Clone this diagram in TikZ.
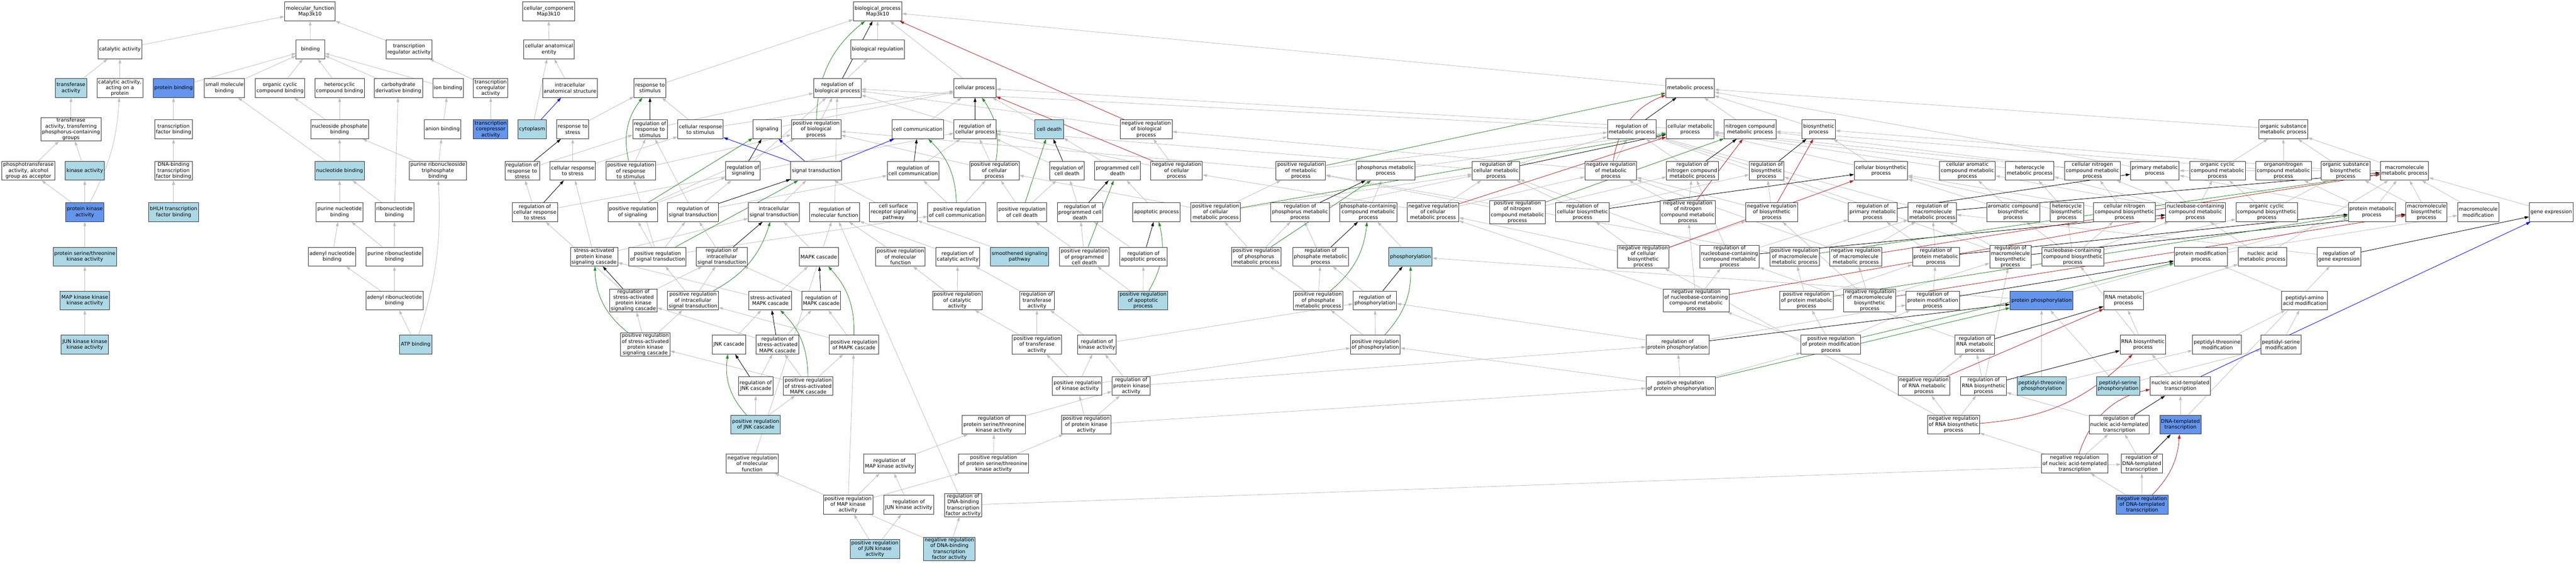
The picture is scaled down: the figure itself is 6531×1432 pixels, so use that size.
\documentclass[tikz,border=0pt]{standalone}
\usepackage{fontspec}
\setmainfont{DejaVu Sans}
\usetikzlibrary{arrows.meta,backgrounds}
\definecolor{lightblue}{HTML}{ADD8E6}
\definecolor{cornflower}{HTML}{6495ED}
\definecolor{edgegray}{HTML}{BEBEBE}
\definecolor{fgreen}{HTML}{228B22}
\definecolor{fred}{HTML}{B22222}
\tikzset{
  term/.style={draw=black!80,line width=1.2pt,fill=white,rectangle,align=center,
    minimum width=72pt,minimum height=48pt,inner xsep=3pt,inner ysep=1pt,
    font=\fontsize{12.8}{14.7}\selectfont},
  lb/.style={term,fill=lightblue},
  cb/.style={term,fill=cornflower},
  isa/.style={draw=edgegray,line width=1.1pt,->},
  regl/.style={isa,draw=black},
  preg/.style={isa,draw=fgreen},
  nreg/.style={isa,draw=fred},
  partof/.style={isa,draw=blue}
}
\begin{document}
\begin{tikzpicture}[x=1pt,y=-1pt,>={Triangle[length=11pt,width=7pt]}]
\useasboundingbox (0,0) rectangle (6531,1432);
\node[term] (mf) at (786,29) {molecular\_function\\Map3k10};
\node[term] (cc) at (1391,29) {cellular\_component\\Map3k10};
\node[term] (bp) at (2225,29) {biological\_process\\Map3k10};
\node[term] (cat) at (304,125) {catalytic activity};
\node[term] (bind) at (787,125) {binding};
\node[term] (trreg) at (1037,125) {transcription\\regulator activity};
\node[term] (cae) at (1392,125) {cellular anatomical\\entity};
\node[term] (breg) at (2225,125) {biological regulation};
\node[lb] (trans) at (180,223) {transferase\\activity};
\node[term] (catprot) at (304,223) {catalytic activity,\\acting on a\\protein};
\node[cb] (protbind) at (440,223) {protein binding};
\node[term] (smallmol) at (569,223) {small molecule\\binding};
\node[term] (orgcyc) at (710,223) {organic cyclic\\compound binding};
\node[term] (hetcyc) at (861,223) {heterocyclic\\compound binding};
\node[term] (carbo) at (1010,223) {carbohydrate\\derivative binding};
\node[term] (ionb) at (1136,223) {ion binding};
\node[term] (trcoreg) at (1244,223) {transcription\\coregulator\\activity};
\node[term] (ias) at (1445,223) {intracellular\\anatomical structure};
\node[term] (resp) at (1648,223) {response to\\stimulus};
\node[term] (rbp) at (2123,223) {regulation of\\biological process};
\node[term] (cellp) at (2472,223) {cellular process};
\node[term] (metab) at (4285,223) {metabolic process};
\node[term] (transP) at (180,328) {transferase\\activity, transferring\\phosphorus-containing\\groups};
\node[term] (tfbind) at (440,328) {transcription\\factor binding};
\node[term] (nucphos) at (861,328) {nucleoside phosphate\\binding};
\node[term] (anion) at (1122,328) {anion binding};
\node[cb] (trcorep) at (1244,328) {transcription\\corepressor\\activity};
\node[lb] (cyto) at (1349,328) {cytoplasm};
\node[term] (rstress) at (1452,328) {response to\\stress};
\node[term] (rresp) at (1648,328) {regulation of\\response to\\stimulus};
\node[term] (crs) at (1776,328) {cellular response\\to stimulus};
\node[term] (sig) at (1945,328) {signaling};
\node[term] (prbp) at (2069,328) {positive regulation\\of biological\\process};
\node[term] (cellcomm) at (2327,328) {cell communication};
\node[term] (rcellp) at (2472,328) {regulation of\\cellular process};
\node[lb] (death) at (2660,328) {cell death};
\node[term] (nrbp) at (2906,328) {negative regulation\\of biological\\process};
\node[term] (rmetab) at (4137,328) {regulation of\\metabolic process};
\node[term] (cmetab) at (4285,328) {cellular metabolic\\process};
\node[term] (nmetab) at (4437,328) {nitrogen compound\\metabolic process};
\node[term] (biosyn) at (4611,328) {biosynthetic\\process};
\node[term] (osmetab) at (5789,328) {organic substance\\metabolic process};
\node[term] (phostr) at (72,433) {phosphotransferase\\activity, alcohol\\group as acceptor};
\node[lb] (kin) at (215,433) {kinase activity};
\node[term] (dnatf) at (440,433) {DNA-binding\\transcription\\factor binding};
\node[lb] (nucl) at (861,433) {nucleotide binding};
\node[term] (purtri) at (1110,433) {purine ribonucleoside\\triphosphate\\binding};
\node[term] (rrstress) at (1324,433) {regulation of\\response to\\stress};
\node[term] (crstress) at (1452,433) {cellular response\\to stress};
\node[term] (prresp) at (1599,433) {positive regulation\\of response\\to stimulus};
\node[term] (rsig) at (1884,433) {regulation of\\signaling};
\node[term] (sigtr) at (2069,433) {signal transduction};
\node[term] (rcomm) at (2315,433) {regulation of\\cell communication};
\node[term] (prcellp) at (2521,433) {positive regulation\\of cellular\\process};
\node[term] (rdeath) at (2705,433) {regulation of\\cell death};
\node[term] (pcd) at (2833,433) {programmed cell\\death};
\node[term] (nrcellp) at (2983,433) {negative regulation\\of cellular\\process};
\node[term] (prmetab) at (3298,433) {positive regulation\\of metabolic\\process};
\node[term] (phosmet) at (3513,433) {phosphorus metabolic\\process};
\node[term] (rcmetab) at (3793,433) {regulation of\\cellular metabolic\\process};
\node[term] (nrmetab) at (4084,433) {negative regulation\\of metabolic\\process};
\node[term] (rnmetab) at (4291,433) {regulation of\\nitrogen compound\\metabolic process};
\node[term] (rbiosyn) at (4479,433) {regulation of\\biosynthetic\\process};
\node[term] (cbiosyn) at (4769,433) {cellular biosynthetic\\process};
\node[term] (caromet) at (4988,433) {cellular aromatic\\compound metabolic\\process};
\node[term] (hetmet) at (5146,433) {heterocycle\\metabolic process};
\node[term] (cnmet) at (5305,433) {cellular nitrogen\\compound metabolic\\process};
\node[term] (primet) at (5463,433) {primary metabolic\\process};
\node[term] (ocmet) at (5622,433) {organic cyclic\\compound metabolic\\process};
\node[term] (onmet) at (5789,433) {organonitrogen\\compound metabolic\\process};
\node[term] (osbio) at (5947,433) {organic substance\\biosynthetic\\process};
\node[term] (macmet) at (6096,433) {macromolecule\\metabolic process};
\node[cb] (pkin) at (215,538) {protein kinase\\activity};
\node[lb] (bhlh) at (440,538) {bHLH transcription\\factor binding};
\node[term] (purnuc) at (861,538) {purine nucleotide\\binding};
\node[term] (ribonuc) at (1000,538) {ribonucleotide\\binding};
\node[term] (rcrstress) at (1356,538) {regulation of\\cellular response\\to stress};
\node[term] (prsig) at (1604,538) {positive regulation\\of signaling};
\node[term] (rsigtr) at (1757,538) {regulation of\\signal transduction};
\node[term] (istr) at (1962,538) {intracellular\\signal transduction};
\node[term] (rmf) at (2116,538) {regulation of\\molecular function};
\node[term] (csr) at (2265,538) {cell surface\\receptor signaling\\pathway};
\node[term] (prcomm) at (2426,538) {positive regulation\\of cell communication};
\node[term] (prdeath) at (2591,538) {positive regulation\\of cell death};
\node[term] (rpcd) at (2738,538) {regulation of\\programmed cell\\death};
\node[term] (apop) at (2932,538) {apoptotic process};
\node[term] (prcmetab) at (3082,538) {positive regulation\\of cellular\\metabolic process};
\node[term] (rphosmet) at (3296,538) {regulation of\\phosphorus metabolic\\process};
\node[term] (phcmet) at (3469,538) {phosphate-containing\\compound metabolic\\process};
\node[term] (nrcmetab) at (3633,538) {negative regulation\\of cellular\\metabolic process};
\node[term] (prnmetab) at (3847,538) {positive regulation\\of nitrogen\\compound metabolic\\process};
\node[term] (rcbiosyn) at (4012,538) {regulation of\\cellular biosynthetic\\process};
\node[term] (nrnmetab) at (4279,538) {negative regulation\\of nitrogen\\compound metabolic\\process};
\node[term] (nrbiosyn) at (4492,538) {negative regulation\\of biosynthetic\\process};
\node[term] (rprimet) at (4748,538) {regulation of\\primary metabolic\\process};
\node[term] (rmacmet) at (4899,538) {regulation of\\macromolecule\\metabolic process};
\node[term] (arobio) at (5104,538) {aromatic compound\\biosynthetic\\process};
\node[term] (hetbio) at (5240,538) {heterocycle\\biosynthetic\\process};
\node[term] (cnbio) at (5386,538) {cellular nitrogen\\compound biosynthetic\\process};
\node[term] (nbmet) at (5566,538) {nucleobase-containing\\compound metabolic\\process};
\node[term] (ocbio) at (5747,538) {organic cyclic\\compound biosynthetic\\process};
\node[term] (protmet) at (6013,538) {protein metabolic\\process};
\node[term] (macbio) at (6152,538) {macromolecule\\biosynthetic\\process};
\node[term] (macmod) at (6283,538) {macromolecule\\modification};
\node[term] (genex) at (6468,538) {gene expression};
\node[lb] (stk) at (215,651) {protein serine/threonine\\kinase activity};
\node[term] (adenyl) at (842,651) {adenyl nucleotide\\binding};
\node[term] (purribo) at (1000,651) {purine ribonucleotide\\binding};
\node[term] (sapk) at (1506,651) {stress-activated\\protein kinase\\signaling cascade};
\node[term] (prsigtr) at (1667,651) {positive regulation\\of signal transduction};
\node[term] (ristr) at (1830,651) {regulation of\\intracellular\\signal transduction};
\node[term] (mapk) at (2076,651) {MAPK cascade};
\node[term] (prmf) at (2283,651) {positive regulation\\of molecular\\function};
\node[term] (rcat) at (2428,651) {regulation of\\catalytic activity};
\node[lb] (smo) at (2585,651) {smoothened signaling\\pathway};
\node[term] (prpcd) at (2749,651) {positive regulation\\of programmed\\cell death};
\node[term] (rapop) at (2899,651) {regulation of\\apoptotic process};
\node[term] (prphosmet) at (3185,651) {positive regulation\\of phosphorus\\metabolic process};
\node[term] (rphcmet) at (3348,651) {regulation of\\phosphate metabolic\\process};
\node[lb] (phos) at (3576,651) {phosphorylation};
\node[term] (nrcbiosyn) at (4166,651) {negative regulation\\of cellular\\biosynthetic\\process};
\node[term] (rnbmet) at (4385,651) {regulation of\\nucleobase-containing\\compound metabolic\\process};
\node[term] (prmacmet) at (4550,651) {positive regulation\\of macromolecule\\metabolic process};
\node[term] (nrmacmet) at (4705,651) {negative regulation\\of macromolecule\\metabolic process};
\node[term] (rprotmet) at (4908,651) {regulation of\\protein metabolic\\process};
\node[term] (rmacbio) at (5097,651) {regulation of\\macromolecule\\biosynthetic\\process};
\node[term] (nbbio) at (5255,651) {nucleobase-containing\\compound biosynthetic\\process};
\node[term] (protmod) at (5580,651) {protein modification\\process};
\node[term] (nacmet) at (5736,651) {nucleic acid\\metabolic process};
\node[term] (rgenex) at (5930,651) {regulation of\\gene expression};
\node[lb] (mapkkk) at (215,762) {MAP kinase kinase\\kinase activity};
\node[term] (adenribo) at (1000,762) {adenyl ribonucleotide\\binding};
\node[term] (rsapk) at (1606,762) {regulation of\\stress-activated\\protein kinase\\signaling cascade};
\node[term] (pristr) at (1757,762) {positive regulation\\of intracellular\\signal transduction};
\node[term] (samapk) at (1953,762) {stress-activated\\MAPK cascade};
\node[term] (rmapk) at (2082,762) {regulation of\\MAPK cascade};
\node[term] (prcat) at (2427,762) {positive regulation\\of catalytic\\activity};
\node[term] (rtrans) at (2629,762) {regulation of\\transferase\\activity};
\node[lb] (prapop) at (2898,762) {positive regulation\\of apoptotic\\process};
\node[term] (prphcmet) at (3342,762) {positive regulation\\of phosphate\\metabolic process};
\node[term] (rphos) at (3486,762) {regulation of\\phosphorylation};
\node[term] (nrnbmet) at (4300,762) {negative regulation\\of nucleobase-containing\\compound metabolic\\process};
\node[term] (prprotmet) at (4580,762) {positive regulation\\of protein metabolic\\process};
\node[term] (nrmacbio) at (4740,762) {negative regulation\\of macromolecule\\biosynthetic\\process};
\node[term] (rprotmod) at (4900,762) {regulation of\\protein modification\\process};
\node[cb] (protphos) at (5176,762) {protein phosphorylation};
\node[term] (rnamet) at (5384,762) {RNA metabolic\\process};
\node[term] (pepaa) at (5843,762) {peptidyl-amino\\acid modification};
\node[lb] (junkkk) at (215,874) {JUN kinase kinase\\kinase activity};
\node[lb] (atp) at (1054,874) {ATP binding};
\node[term] (prsapk) at (1636,874) {positive regulation\\of stress-activated\\protein kinase\\signaling cascade};
\node[term] (jnk) at (1848,874) {JNK cascade};
\node[term] (rsamapk) at (1971,874) {regulation of\\stress-activated\\MAPK cascade};
\node[term] (prmapk) at (2165,874) {positive regulation\\of MAPK cascade};
\node[term] (prtrans) at (2629,874) {positive regulation\\of transferase\\activity};
\node[term] (rkin) at (2781,874) {regulation of\\kinase activity};
\node[term] (prphos) at (3487,874) {positive regulation\\of phosphorylation};
\node[term] (rprotphos) at (4253,874) {regulation of\\protein phosphorylation};
\node[term] (prprotmod) at (4642,874) {positive regulation\\of protein modification\\process};
\node[term] (rrnamet) at (5007,874) {regulation of\\RNA metabolic\\process};
\node[term] (rnabio) at (5433,874) {RNA biosynthetic\\process};
\node[term] (pepthr) at (5621,874) {peptidyl-threonine\\modification};
\node[term] (pepser) at (5783,874) {peptidyl-serine\\modification};
\node[term] (rjnk) at (1916,979) {regulation of\\JNK cascade};
\node[term] (prsamapk) at (2049,979) {positive regulation\\of stress-activated\\MAPK cascade};
\node[term] (prkin) at (2731,979) {positive regulation\\of kinase activity};
\node[term] (rpkin) at (2868,979) {regulation of\\protein kinase\\activity};
\node[term] (prprotphos) at (4261,979) {positive regulation\\of protein phosphorylation};
\node[term] (nrrnamet) at (4878,979) {negative regulation\\of RNA metabolic\\process};
\node[term] (rrnabio) at (5029,979) {regulation of\\RNA biosynthetic\\process};
\node[lb] (thrphos) at (5176,979) {peptidyl-threonine\\phosphorylation};
\node[lb] (serphos) at (5370,979) {peptidyl-serine\\phosphorylation};
\node[term] (natr) at (5528,979) {nucleic acid-templated\\transcription};
\node[lb] (prjnk) at (1916,1077) {positive regulation\\of JNK cascade};
\node[term] (rstk) at (2520,1077) {regulation of\\protein serine/threonine\\kinase activity};
\node[term] (prpkin) at (2754,1077) {positive regulation\\of protein kinase\\activity};
\node[term] (nrrnabio) at (4953,1077) {negative regulation\\of RNA biosynthetic\\process};
\node[term] (rnatr) at (5373,1077) {regulation of\\nucleic acid-templated\\transcription};
\node[cb] (dnatr) at (5528,1077) {DNA-templated\\transcription};
\node[term] (nrmf) at (1907,1176) {negative regulation\\of molecular\\function};
\node[term] (rmapkin) at (2255,1176) {regulation of\\MAP kinase activity};
\node[term] (prstk) at (2519,1176) {positive regulation\\of protein serine/threonine\\kinase activity};
\node[term] (nrnatr) at (5260,1176) {negative regulation\\of nucleic acid-templated\\transcription};
\node[term] (rdnatr) at (5430,1176) {regulation of\\DNA-templated\\transcription};
\node[term] (prmapkin) at (2150,1280) {positive regulation\\of MAP kinase\\activity};
\node[term] (rjunkin) at (2304,1280) {regulation of\\JUN kinase activity};
\node[term] (rdnatf) at (2442,1281) {regulation of\\DNA-binding\\transcription\\factor activity};
\node[cb] (nrdnatr) at (5431,1280) {negative regulation\\of DNA-templated\\transcription};
\node[lb] (prjunkin) at (2218,1392) {positive regulation\\of JUN kinase\\activity};
\node[lb] (nrdnatf) at (2407,1392) {negative regulation\\of DNA-binding\\transcription\\factor activity};
\begin{scope}[on background layer]
\foreach \a/\b in {cat/mf, bind/mf, trreg/mf, trans/cat, catprot/cat, protbind/bind, smallmol/bind,
  orgcyc/bind, hetcyc/bind, carbo/bind, ionb/bind, trcoreg/trreg, trcorep/trcoreg, transP/trans,
  tfbind/protbind, nucphos/orgcyc, nucphos/hetcyc, anion/ionb, phostr/transP, kin/transP,
  dnatf/tfbind, nucl/smallmol, nucl/nucphos, purtri/nucphos, purtri/anion, pkin/phostr, pkin/kin,
  bhlh/dnatf, purnuc/nucl, ribonuc/nucl, ribonuc/carbo, stk/pkin, adenyl/purnuc, purribo/purnuc,
  purribo/ribonuc, mapkkk/stk, adenribo/adenyl, adenribo/purribo, junkkk/mapkkk, atp/adenribo,
  cae/cc, ias/cae, cyto/cae}
  \draw[isa] (\a) -- (\b);
\draw[isa] (pkin) to[bend right=12] (catprot);
\draw[isa] (atp) to[bend right=10] (purtri);
\foreach \a/\b in {breg/bp, rbp/breg, cellp/bp, metab/bp, resp/bp, nrbp/rbp, prbp/rbp, rcellp/rbp,
  rresp/rbp, rsig/rbp, rmf/rbp, rmetab/rbp, crs/resp, crs/cellp, rstress/resp, sig/cellp,
  cellcomm/cellp, death/cellp, cmetab/cellp, crstress/rstress, crstress/crs, rrstress/rresp,
  rcrstress/rrstress, rcrstress/rcellp, prresp/rresp, prresp/prbp, prsig/rsig, prsig/prbp,
  prsigtr/prcomm, rsigtr/rresp, rsigtr/rsig, rsigtr/rcomm, istr/sigtr, csr/sigtr, sapk/crstress,
  sapk/istr, prsigtr/prsig, prsigtr/rsigtr, prsigtr/prresp, ristr/rsigtr, mapk/istr, rsapk/ristr,
  rsapk/rcrstress, pristr/ristr, pristr/prsigtr, samapk/sapk, samapk/mapk, rmapk/ristr,
  prsapk/rsapk, prsapk/pristr, jnk/samapk, rsamapk/rsapk, rsamapk/rmapk, prmapk/rmapk,
  prmapk/pristr, rjnk/rsamapk, prsamapk/prsapk, prsamapk/rsamapk, prsamapk/prmapk, prjnk/rjnk,
  prjnk/prsamapk}
  \draw[isa] (\a) -- (\b);
\foreach \a/\b in {nrmf/rmf, prmf/rmf, rcat/rmf, prcat/prmf, prcat/rcat, rtrans/rcat, prtrans/prcat,
  prtrans/rtrans, rkin/rtrans, rkin/rphos, prkin/prtrans, prkin/rkin, prkin/prphos, rpkin/rkin,
  rpkin/rprotphos, rstk/rpkin, prpkin/prkin, prpkin/rpkin, prpkin/prprotphos, rmapkin/rstk,
  prstk/rstk, prstk/prpkin, rjunkin/rmapkin, prmapkin/rmapkin, prmapkin/prstk, prmapkin/prmapk,
  prjunkin/rjunkin, prjunkin/prmapkin, rdnatf/rmf, rdnatf/rdnatr, nrdnatf/rdnatf, nrdnatf/nrmf,
  rcomm/rcellp, prcellp/rcellp, prcellp/prbp, rdeath/rcellp, pcd/death, nrcellp/nrbp,
  nrcellp/rcellp, prcomm/rcomm, prcomm/prcellp, prdeath/rdeath, prdeath/prcellp, rpcd/rdeath,
  apop/pcd, smo/csr, prpcd/prdeath, prpcd/rpcd, rapop/rpcd, prapop/prpcd, prapop/rapop}
  \draw[isa] (\a) -- (\b);
\foreach \a/\b in {prcmetab/prcellp, prcmetab/prmetab, prcmetab/rcmetab, rphosmet/rcmetab,
  prphosmet/prcmetab, prphosmet/rphosmet, phcmet/phosmet, nrcmetab/rcmetab, nrcmetab/nrmetab,
  nrcmetab/nrcellp, prmetab/rmetab, prmetab/prbp, phosmet/cmetab, rcmetab/rmetab, rcmetab/rcellp,
  nrmetab/rmetab, nrmetab/nrbp, rnmetab/rmetab, nmetab/metab, biosyn/metab, prnmetab/rnmetab,
  prnmetab/prmetab, rcbiosyn/rcmetab, rcbiosyn/rbiosyn, nrnmetab/rnmetab, nrnmetab/nrmetab,
  rbiosyn/rmetab, cbiosyn/biosyn, cbiosyn/cmetab, caromet/cmetab, hetmet/cmetab, cnmet/nmetab,
  cnmet/cmetab, primet/metab, osmetab/metab, ocmet/osmetab, onmet/osmetab, onmet/nmetab,
  osbio/osmetab, osbio/biosyn, macmet/osmetab, macmet/primet, nrbiosyn/rbiosyn, nrbiosyn/nrmetab,
  rprimet/rmetab, rmacmet/rmetab, arobio/caromet, arobio/cbiosyn, hetbio/hetmet, hetbio/cbiosyn,
  cnbio/cnmet, cnbio/cbiosyn, nbmet/caromet, nbmet/hetmet, nbmet/cnmet, nbmet/ocmet, nbmet/primet,
  ocbio/ocmet, ocbio/osbio, protmet/macmet, protmet/onmet, protmet/primet, macbio/macmet,
  macbio/osbio, macmod/macmet, genex/macmet}
  \draw[isa] (\a) -- (\b);
\foreach \a/\b in {nrcbiosyn/rcbiosyn, nrcbiosyn/nrbiosyn, nrcbiosyn/nrcmetab, rnbmet/rcmetab,
  rnbmet/rnmetab, rnbmet/rprimet, prmacmet/rmacmet, prmacmet/prmetab, nrmacmet/rmacmet,
  nrmacmet/nrmetab, rprotmet/rmacmet, rprotmet/rprimet, rmacbio/rmacmet, rmacbio/rbiosyn,
  nbbio/nbmet, nbbio/arobio, nbbio/hetbio, nbbio/cnbio, nbbio/ocbio, protmod/protmet,
  protmod/macmod, nacmet/nbmet, nacmet/macmet, rgenex/rmacmet, nrnbmet/rnbmet, nrnbmet/nrcmetab,
  nrnbmet/nrnmetab, prprotmet/rprotmet, prprotmet/prmacmet, nrmacbio/rmacbio, nrmacbio/nrmacmet,
  nrmacbio/nrbiosyn, rprotmod/rprotmet, protphos/phos, protphos/protmod, rnamet/nacmet,
  prprotmod/rprotmod, prprotmod/prprotmet, rrnamet/rnbmet, rnabio/rnamet, rnabio/nbbio,
  pepaa/protmod, rprotphos/rphos, rprotphos/rprotmod, prprotphos/prphos, prprotphos/rprotphos,
  prprotphos/prprotmod, prphos/prphcmet, prphos/rphos, rphos/rphcmet, prphcmet/rphcmet,
  prphcmet/prphosmet, rphcmet/rphosmet, phos/phcmet, nrrnamet/rrnamet, nrrnamet/nrnbmet,
  rrnabio/rrnamet, rrnabio/rmacbio, thrphos/protphos, thrphos/pepthr, serphos/protphos,
  serphos/pepser, pepthr/pepaa, pepser/pepaa, natr/rnabio, nrrnabio/nrrnamet, nrrnabio/rrnabio,
  nrrnabio/nrcbiosyn, rnatr/rrnabio, dnatr/natr, nrnatr/nrrnabio, nrnatr/rnatr, rdnatr/rnatr,
  rdnatr/rgenex, nrdnatr/nrnatr, nrdnatr/rdnatr}
  \draw[isa] (\a) -- (\b);
\foreach \a/\b in {rbp/bp, rresp/resp, rrstress/rstress, rcrstress/crstress, rsig/sig, rsigtr/sigtr,
  ristr/istr, rsapk/sapk, rmapk/mapk, rsamapk/samapk, rjnk/jnk, rcomm/cellcomm, rcellp/cellp,
  rdeath/death, rpcd/pcd, rapop/apop, rmetab/metab, rphosmet/phosmet, rphcmet/phcmet, rphos/phos,
  rcmetab/cmetab, rnmetab/nmetab, rbiosyn/biosyn, rcbiosyn/cbiosyn, rprimet/primet, rmacmet/macmet,
  rnbmet/nbmet, rprotmet/protmet, rmacbio/macbio, rprotmod/protmod, rprotphos/protphos,
  rrnamet/rnamet, rrnabio/rnabio, rnatr/natr, rdnatr/dnatr, rgenex/genex}
  \draw[regl] (\a) -- (\b);
\foreach \a/\b in {prsig/sig, prsigtr/sigtr, prdeath/death, prpcd/pcd, prmetab/metab,
  prcmetab/cmetab, prphosmet/phosmet, prnmetab/nmetab, prmacmet/macmet, prprotmet/protmet,
  prprotmod/protmod, prprotphos/protphos}
  \draw[preg] (\a) -- (\b);
\foreach \a/\b in {prbp/bp, prresp/resp, prsapk/sapk, prjnk/jnk}
  \draw[preg] (\a) to[bend left=25] (\b);
\foreach \a/\b in {prsamapk/samapk, prmapk/mapk, prapop/apop, prcellp/cellp, prcomm/cellcomm,
  prphos/phos, prphcmet/phcmet, pristr/istr}
  \draw[preg] (\a) to[bend right=22] (\b);
\foreach \a/\b in {nrbp/bp, nrcellp/cellp, nrcmetab/cmetab, nrnmetab/nmetab, nrbiosyn/biosyn,
  nrcbiosyn/cbiosyn, nrmacmet/macmet, nrmacbio/macbio, nrnbmet/nbmet, nrrnamet/rnamet}
  \draw[nreg] (\a) -- (\b);
\foreach \a/\b in {nrmetab/metab, nrnatr/natr}
  \draw[nreg] (\a) to[bend left=30] (\b);
\foreach \a/\b in {nrdnatr/dnatr, nrrnabio/rnabio}
  \draw[nreg] (\a) to[bend right=20] (\b);
\foreach \a/\b in {cyto/ias, sigtr/crs, sigtr/sig, sigtr/cellcomm, natr/genex}
  \draw[partof] (\a) -- (\b);
\end{scope}
\end{tikzpicture}
\end{document}
